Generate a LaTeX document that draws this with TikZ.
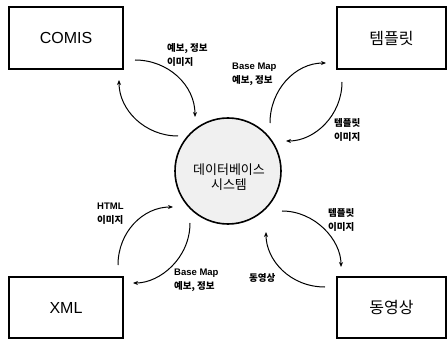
\documentclass[tikz,border=0pt]{standalone}
\usepackage{fontspec}
\setmainfont{Liberation Sans}
\newfontfamily\kr{Noto Sans CJK KR}
\usetikzlibrary{arrows.meta}
\begin{document}
\begin{tikzpicture}[x=1pt,y=-1pt,
  entity/.style={draw,line width=1.3pt,inner sep=0pt},
  boxtext/.style={font=\fontsize{16}{18}\selectfont},
  lbl/.style={anchor=west,align=left,inner sep=0pt,font=\fontsize{9.5}{14}\selectfont\bfseries},
  flow/.style={line width=1pt,-{Stealth[length=5pt,width=4pt]}}]
\useasboundingbox (0,0) rectangle (447,339);
% boxes
\draw[entity] (9,7) rectangle (123,69);
\node[boxtext] (comis) at (66,38) {COMIS};
\draw[entity] (337,7) rectangle (446,69);
\node[boxtext] (tmpl) at (391.5,38) {\kr 템플릿};
\draw[entity] (9,277) rectangle (123,338);
\node[boxtext] (xml) at (66,307.5) {XML};
\draw[entity] (337,277) rectangle (446,338);
\node[boxtext] (video) at (391.5,307.5) {\kr 동영상};
% database circle
\node[draw,circle,line width=1.6pt,fill=black!6,minimum size=106pt,inner sep=0pt] (db) at (228,171) {};
\node[align=center,font=\fontsize{13}{15}\selectfont\kr] (dbt) at (229,177) {데이터베이스\\시스템};
% coordinates for connectors
\coordinate (c1s) at (135,60);  \coordinate (c1e) at (195,117);
\coordinate (c2s) at (178,136); \coordinate (c2e) at (119,80);
\coordinate (c3s) at (270,123); \coordinate (c3e) at (326,63);
\coordinate (c4s) at (342,82);  \coordinate (c4e) at (286,141);
\coordinate (c5s) at (118,265); \coordinate (c5e) at (173,207);
\coordinate (c6s) at (190,223); \coordinate (c6e) at (133,283);
\coordinate (c7s) at (282,211); \coordinate (c7e) at (341,267);
\coordinate (c8s) at (325,287); \coordinate (c8e) at (266,232);
\draw[flow] (c1s) .. controls (168,60) and (195,85) .. (c1e);
\draw[flow] (c2s) .. controls (145,136) and (119,110) .. (c2e);
\draw[flow] (c3s) .. controls (270,90) and (295,63) .. (c3e);
\draw[flow] (c4s) .. controls (342,115) and (315,141) .. (c4e);
\draw[flow] (c5s) .. controls (118,232) and (143,207) .. (c5e);
\draw[flow] (c6s) .. controls (190,258) and (160,283) .. (c6e);
\draw[flow] (c7s) .. controls (315,211) and (341,240) .. (c7e);
\draw[flow] (c8s) .. controls (290,287) and (266,260) .. (c8e);
% labels
\node[lbl] (l1) at (167,55) {\kr 예보, 정보\\\kr 이미지};
\node[lbl] (l2) at (232,74) {Base Map\\\kr 예보, 정보};
\node[lbl] (l3) at (334,130) {\kr 템플릿\\\kr 이미지};
\node[lbl] (l4) at (97,214) {HTML\\\kr 이미지};
\node[lbl] (l5) at (174,280) {Base Map\\\kr 예보, 정보};
\node[lbl] (l6) at (328,220) {\kr 템플릿\\\kr 이미지};
\node[lbl] (l7) at (249,278) {\kr 동영상};
\end{tikzpicture}
\end{document}
